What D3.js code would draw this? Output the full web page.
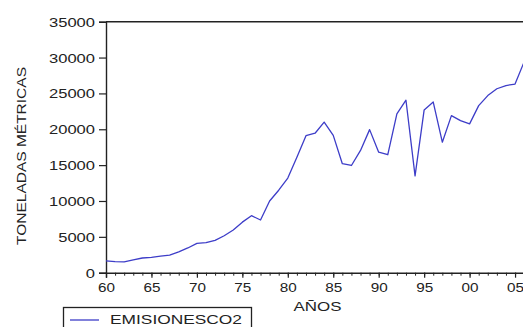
<!DOCTYPE html>
<html>
<head>
<meta charset="utf-8">
<script src="https://cdn.jsdelivr.net/npm/d3@7"></script>
<style>
html,body{margin:0;padding:0;background:#fff;}
svg{display:block;}
text{font-family:"Liberation Sans",Arial,sans-serif;fill:#222;}
</style>
</head>
<body>
<svg id="c" width="523" height="327"></svg>
<script>
const years = d3.range(1960, 2007);
const emisiones = [
  1650, 1550, 1500, 1800, 2050, 2150, 2300, 2450, 2900, 3450,
  4100, 4180, 4500, 5150, 5950, 7050, 7950, 7350, 10000, 11500,
  13200, 16100, 19100, 19450, 21000, 19150, 15200, 14950, 17050, 19950,
  16800, 16450, 22150, 24050, 13500, 22700, 23800, 18200, 21900, 21200,
  20750, 23300, 24700, 25650, 26100, 26300, 29400
];
const yTicks = [0, 5000, 10000, 15000, 20000, 25000, 30000, 35000];
const xMajor = [1960, 1965, 1970, 1975, 1980, 1985, 1990, 1995, 2000, 2005];
const xLabels = ["60", "65", "70", "75", "80", "85", "90", "95", "00", "05"];
const seriesName = "EMISIONESCO2";
const yTitle = "TONELADAS MÉTRICAS";
const xTitle = "AÑOS";

const svg = d3.select("#c");
const mLeft = 106, mTop = 21.7, mBottom = 272.7;
const x = d3.scaleLinear().domain([1960, 2006]).range([mLeft, mLeft + 46 * 9.09]);
const y = d3.scaleLinear().domain([0, 35000]).range([mBottom, mTop]);

// frame top
svg.append("line").attr("x1", mLeft).attr("x2", 530).attr("y1", mTop).attr("y2", mTop)
  .attr("stroke", "#222").attr("stroke-width", 1.4);

// y axis
const ya = svg.append("g").attr("transform", `translate(${mLeft},0)`)
  .call(d3.axisLeft(y).tickValues(yTicks).tickSize(7).tickPadding(4).tickFormat(d3.format("d")));
ya.select(".domain").attr("stroke", "#222").attr("stroke-width", 1.4);
ya.selectAll(".tick line").attr("stroke", "#222").attr("stroke-width", 1.2);
ya.selectAll(".tick text").attr("font-size", 12.5).attr("fill", "#222")
  .attr("x", -11).attr("dy", "0.36em")
  .attr("textLength", function(d){ return String(d).length * 9.2; })
  .attr("lengthAdjust", "spacingAndGlyphs");

// x axis minor ticks
const xaMinor = svg.append("g").attr("transform", `translate(0,${mBottom})`)
  .call(d3.axisBottom(x).tickValues(years).tickSize(3).tickFormat(""));
xaMinor.select(".domain").remove();
xaMinor.selectAll(".tick line").attr("stroke", "#222").attr("stroke-width", 1);

const xa = svg.append("g").attr("transform", `translate(0,${mBottom})`)
  .call(d3.axisBottom(x).tickValues(xMajor).tickSize(5).tickPadding(5)
    .tickFormat((d, i) => xLabels[i]));
xa.select(".domain").attr("stroke", "#222").attr("stroke-width", 1.4);
xa.selectAll(".tick line").attr("stroke", "#222").attr("stroke-width", 1.2);
xa.selectAll(".tick text").attr("font-size", 12).attr("fill", "#222")
  .attr("textLength", 17).attr("lengthAdjust", "spacingAndGlyphs")
  .attr("y", 19).attr("dy", 0);

// line
const line = d3.line().x((d, i) => x(years[i])).y(d => y(d));
svg.append("path").datum(emisiones)
  .attr("d", line).attr("fill", "none")
  .attr("stroke", "#3d3dc8").attr("stroke-width", 1.3).attr("stroke-linejoin", "round");

// titles
svg.append("text").attr("x", 317.5).attr("y", 310.7).attr("text-anchor", "middle")
  .attr("font-size", 13).attr("textLength", 48).attr("lengthAdjust", "spacingAndGlyphs")
  .text(xTitle);
svg.append("text").attr("transform", "translate(25.5,156) rotate(-90)")
  .attr("text-anchor", "middle").attr("font-size", 13.5)
  .attr("textLength", 178).attr("lengthAdjust", "spacingAndGlyphs")
  .text(yTitle);

// legend
svg.append("rect").attr("x", 63.5).attr("y", 307.5).attr("width", 188).attr("height", 30)
  .attr("fill", "none").attr("stroke", "#222").attr("stroke-width", 1.3);
svg.append("line").attr("x1", 70).attr("x2", 99).attr("y1", 320).attr("y2", 320)
  .attr("stroke", "#3d3dc8").attr("stroke-width", 1.3);
svg.append("text").attr("x", 110).attr("y", 324).attr("font-size", 13.5)
  .attr("textLength", 132).attr("lengthAdjust", "spacingAndGlyphs")
  .text(seriesName);
</script>
</body>
</html>
